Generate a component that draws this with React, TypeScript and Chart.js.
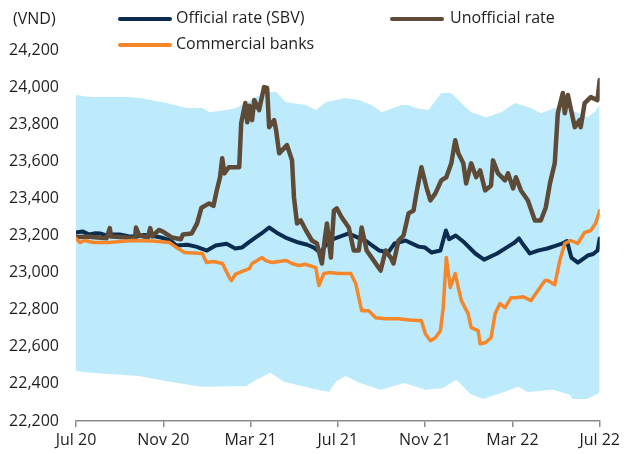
import React, { useEffect, useRef } from "react";
import { Chart, registerables } from "chart.js";

Chart.register(...registerables);

// x values are months elapsed since July 2020
const xTickLabels = ["Jul 20", "Nov 20", "Mar 21", "Jul 21", "Nov 21", "Mar 22", "Jul 22"];

const officialT = [0, 0.3, 0.6, 0.9, 1.1, 1.4, 1.6, 2.0, 2.4, 2.8, 3.1, 3.4, 3.9, 4.3, 4.6, 5.1, 5.5, 6.0, 6.4, 6.9, 7.3, 7.6, 7.9, 8.3, 8.5, 8.85, 9.2, 9.6, 10.2, 10.6, 10.9, 11.2, 11.6, 12.0, 12.5, 12.9, 13.3, 13.9, 14.3, 14.6, 15.1, 15.7, 16.0, 16.3, 16.7, 16.95, 17.1, 17.4, 17.8, 18.3, 18.7, 19.3, 19.8, 20.1, 20.3, 20.5, 20.8, 21.2, 21.6, 22.0, 22.3, 22.5, 22.7, 23.0, 23.45, 23.7, 23.9, 24.0];
const officialV = [23216, 23222, 23205, 23212, 23211, 23200, 23206, 23205, 23196, 23195, 23203, 23200, 23189, 23175, 23146, 23150, 23140, 23119, 23146, 23155, 23130, 23135, 23162, 23195, 23211, 23243, 23215, 23189, 23162, 23150, 23135, 23108, 23173, 23190, 23211, 23190, 23170, 23119, 23108, 23157, 23173, 23140, 23135, 23108, 23119, 23227, 23180, 23200, 23162, 23103, 23070, 23103, 23140, 23162, 23184, 23150, 23103, 23120, 23130, 23145, 23157, 23170, 23081, 23054, 23092, 23100, 23119, 23184];

const unofficialT = [0, 0.5, 1.0, 1.4, 1.55, 1.6, 2.2, 2.7, 2.75, 2.9, 3.3, 3.4, 3.5, 3.8, 4.0, 4.4, 4.8, 4.9, 5.3, 5.55, 5.75, 6.1, 6.3, 6.45, 6.6, 6.7, 6.8, 7.0, 7.48, 7.57, 7.76, 7.85, 7.94, 8.07, 8.17, 8.39, 8.62, 8.76, 8.85, 9.08, 9.17, 9.31, 9.67, 9.9, 9.99, 10.13, 10.3, 10.54, 10.81, 11.04, 11.27, 11.41, 11.5, 11.68, 11.82, 11.95, 12.18, 12.5, 12.73, 12.96, 13.09, 13.32, 13.55, 13.96, 14.19, 14.42, 14.55, 14.78, 15.01, 15.24, 15.47, 15.6, 15.83, 16.06, 16.24, 16.47, 16.74, 16.97, 17.2, 17.38, 17.52, 17.75, 17.88, 18.11, 18.34, 18.52, 18.75, 19.02, 19.11, 19.34, 19.66, 19.8, 20.03, 20.16, 20.39, 20.71, 21.03, 21.3, 21.53, 21.72, 21.94, 22.08, 22.31, 22.4, 22.54, 22.86, 23.08, 23.13, 23.31, 23.59, 23.9, 24.0];
const unofficialV = [23190, 23195, 23189, 23185, 23240, 23195, 23190, 23184, 23243, 23200, 23190, 23240, 23195, 23230, 23220, 23189, 23180, 23205, 23211, 23265, 23350, 23373, 23360, 23443, 23514, 23616, 23535, 23568, 23568, 23805, 23914, 23810, 23900, 23822, 23930, 23876, 24000, 23995, 23784, 23822, 23768, 23643, 23687, 23605, 23405, 23265, 23281, 23227, 23173, 23157, 23049, 23189, 23265, 23081, 23335, 23346, 23297, 23243, 23119, 23119, 23243, 23119, 23081, 23011, 23119, 23081, 23049, 23173, 23200, 23319, 23335, 23427, 23568, 23460, 23389, 23427, 23497, 23514, 23589, 23714, 23643, 23589, 23481, 23589, 23514, 23551, 23443, 23470, 23605, 23535, 23497, 23535, 23454, 23514, 23443, 23389, 23281, 23281, 23351, 23481, 23589, 23859, 23968, 23859, 23957, 23784, 23822, 23784, 23914, 23946, 23930, 24038];

const commercialT = [0, 0.18, 0.4, 0.8, 1.5, 2.6, 3.5, 4.29, 4.61, 4.97, 5.79, 5.98, 6.3, 6.71, 7.03, 7.12, 7.3, 7.48, 7.7, 7.94, 8.07, 8.53, 8.7, 8.99, 9.3, 9.63, 9.9, 10.22, 10.5, 10.99, 11.13, 11.36, 11.6, 12.04, 12.59, 12.82, 13.09, 13.41, 13.73, 14.19, 14.78, 15.3, 15.83, 16.01, 16.24, 16.47, 16.7, 16.83, 16.97, 17.15, 17.38, 17.52, 17.66, 17.97, 18.11, 18.43, 18.52, 18.75, 19.02, 19.21, 19.43, 19.66, 19.94, 20.16, 20.5, 20.85, 21.17, 21.49, 21.62, 21.94, 22.17, 22.4, 22.67, 22.99, 23.31, 23.59, 23.81, 24.0];
const commercialV = [23184, 23162, 23173, 23162, 23162, 23173, 23170, 23162, 23135, 23108, 23103, 23054, 23060, 23049, 22973, 22957, 22990, 23000, 23011, 23022, 23049, 23081, 23065, 23054, 23060, 23065, 23049, 23038, 23045, 23027, 22930, 22995, 23000, 22995, 22995, 22941, 22795, 22795, 22757, 22751, 22751, 22745, 22741, 22670, 22633, 22649, 22687, 22811, 23081, 22919, 22995, 22919, 22849, 22779, 22703, 22687, 22616, 22622, 22649, 22779, 22833, 22811, 22865, 22865, 22870, 22849, 22903, 22957, 22957, 22935, 23065, 23157, 23173, 23157, 23216, 23227, 23265, 23335];

const bandTopT = [0, 0.64, 2.33, 2.92, 4.15, 5.06, 5.79, 6.11, 6.89, 7.34, 8.0, 8.71, 9.17, 9.63, 10.54, 10.99, 11.45, 12.36, 12.96, 13.55, 14.01, 14.92, 15.24, 15.56, 16.15, 16.74, 17.2, 17.66, 18.11, 18.8, 19.48, 20.12, 20.85, 21.3, 21.94, 22.6, 23.45, 23.8, 24.0];
const bandTopV = [23957, 23946, 23946, 23941, 23914, 23887, 23887, 23865, 23876, 23887, 23930, 23973, 23973, 23919, 23903, 23876, 23919, 23941, 23930, 23903, 23865, 23903, 23903, 23887, 23876, 23968, 23968, 23914, 23865, 23838, 23865, 23914, 23887, 23859, 23887, 23880, 23838, 23870, 23903];

const bandBottomT = [0, 0.68, 2.87, 4.29, 5.75, 7.8, 8.26, 8.9, 9.53, 10.77, 11.59, 11.91, 12.36, 13.0, 13.96, 15.05, 16.01, 16.79, 17.43, 18.07, 18.66, 19.62, 20.26, 20.71, 21.85, 22.63, 22.76, 23.4, 23.9, 24.0];
const bandBottomV = [22470, 22460, 22443, 22411, 22384, 22389, 22422, 22460, 22411, 22376, 22357, 22411, 22443, 22405, 22368, 22405, 22368, 22376, 22422, 22346, 22319, 22357, 22384, 22357, 22368, 22341, 22319, 22319, 22346, 22357];

const yMin = 22200;
const yMax = 24200;
const yStep = 200;

const NAVY = "#0b2c4f";
const BROWN = "#5d4a37";
const ORANGE = "#f5862a";
const BAND = "#bdebfc";

const pts = (t: number[], v: number[]) => t.map((x, i) => ({ x, y: v[i] }));

export default function App() {
  const ref = useRef<HTMLCanvasElement | null>(null);

  useEffect(() => {
    if (!ref.current) return;
    const chart = new Chart(ref.current, {
      type: "line",
      data: {
        datasets: [
          {
            label: "Commercial banks",
            data: pts(commercialT, commercialV),
            borderColor: ORANGE,
            borderWidth: 3.5,
            pointRadius: 0,
            tension: 0,
            fill: false,
            order: 1,
          },
          {
            label: "Unofficial rate",
            data: pts(unofficialT, unofficialV),
            borderColor: BROWN,
            borderWidth: 4.5,
            pointRadius: 0,
            tension: 0,
            fill: false,
            order: 2,
          },
          {
            label: "Official rate (SBV)",
            data: pts(officialT, officialV),
            borderColor: NAVY,
            borderWidth: 4,
            pointRadius: 0,
            tension: 0,
            fill: false,
            order: 3,
          },
          {
            label: "band top",
            data: pts(bandTopT, bandTopV),
            borderWidth: 0,
            borderColor: "rgba(0,0,0,0)",
            backgroundColor: BAND,
            pointRadius: 0,
            tension: 0,
            fill: "+1",
            order: 10,
          },
          {
            label: "band bottom",
            data: pts(bandBottomT, bandBottomV),
            borderWidth: 0,
            borderColor: "rgba(0,0,0,0)",
            backgroundColor: BAND,
            pointRadius: 0,
            tension: 0,
            fill: false,
            order: 11,
          },
        ],
      },
      options: {
        responsive: false,
        animation: false,
        devicePixelRatio: 1,
        layout: { padding: { top: 50, right: 21, bottom: 0, left: 0 } },
        plugins: {
          legend: { display: false },
          tooltip: { enabled: false },
        },
        elements: { line: { borderJoinStyle: "round", borderCapStyle: "round" } },
        scales: {
          x: {
            type: "linear",
            min: 0,
            max: 24,
            afterFit: (s: any) => {
              s.height = 33;
            },
            ticks: {
              stepSize: 4,
              autoSkip: false,
              maxRotation: 0,
              padding: 4,
              color: "#1e1e1e",
              font: { family: "'Open Sans'", size: 16 },
              callback: (v: any) => xTickLabels[Math.round(Number(v) / 4)] ?? "",
            },
            grid: {
              display: true,
              drawOnChartArea: false,
              drawTicks: true,
              tickLength: 6,
              color: "#8a8a8a",
              lineWidth: 1.5,
            },
            border: { display: true, color: "#8a8a8a", width: 1.5 },
          },
          y: {
            type: "linear",
            min: yMin,
            max: yMax,
            afterFit: (s: any) => {
              s.width = 76;
            },
            ticks: {
              stepSize: yStep,
              padding: 17,
              color: "#1e1e1e",
              font: { family: "'Open Sans'", size: 16 },
              callback: (v: any) => Number(v).toLocaleString("en-US"),
            },
            grid: { display: false, drawTicks: false },
            border: { display: false },
          },
        },
      } as any,
    });
    return () => chart.destroy();
  }, []);

  const legendText: React.CSSProperties = {
    position: "absolute",
    fontFamily: "'Open Sans'",
    fontSize: 16,
    color: "#1e1e1e",
    lineHeight: "20px",
    whiteSpace: "nowrap",
  };
  const swatch = (color: string, left: number, top: number): React.CSSProperties => ({
    position: "absolute",
    left,
    top,
    width: 54,
    height: 4,
    borderRadius: 2,
    background: color,
  });

  return (
    <div style={{ position: "fixed", left: 0, top: 0, width: 624, height: 454, background: "#fff" }}>
      <canvas ref={ref} width={624} height={454} style={{ position: "absolute", left: 0, top: 0 }} />
      <div style={{ ...legendText, left: 13, top: 8 }}>(VND)</div>
      <div style={swatch(NAVY, 118, 17)} />
      <div style={{ ...legendText, left: 176, top: 7 }}>Official rate (SBV)</div>
      <div style={swatch(BROWN, 390, 17)} />
      <div style={{ ...legendText, left: 450, top: 7 }}>Unofficial rate</div>
      <div style={swatch(ORANGE, 118, 43)} />
      <div style={{ ...legendText, left: 176, top: 33 }}>Commercial banks</div>
    </div>
  );
}
